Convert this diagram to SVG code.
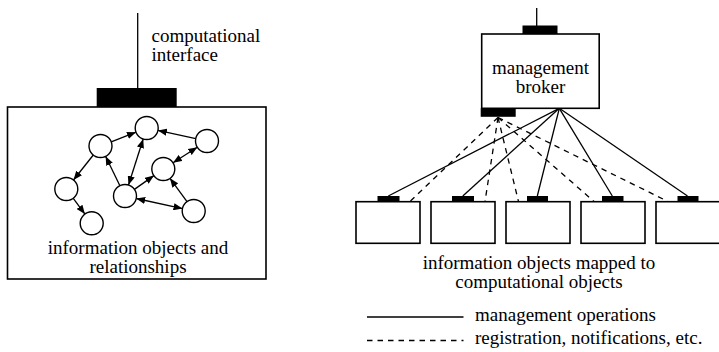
<svg xmlns="http://www.w3.org/2000/svg" width="719" height="352" viewBox="0 0 719 352">
<style>
.t{font-family:'Liberation Serif','DejaVu Serif',serif;font-size:19px;fill:#000}
.box{fill:#fff;stroke:#000;stroke-width:1.6}
.bar{fill:#000}
.circ{fill:#fff;stroke:#000;stroke-width:1.4}
.rel{stroke:#000;stroke-width:1.3;fill:none}
.op{stroke:#000;stroke-width:1.3;fill:none}
.dash{stroke:#000;stroke-width:1.3;fill:none;stroke-dasharray:5.5 5}
</style>
<defs>
<marker id="ah" viewBox="0 0 10 8" refX="10" refY="4" markerWidth="9" markerHeight="7.5" markerUnits="userSpaceOnUse" orient="auto-start-reverse">
<path d="M0,0 L10,4 L0,8 z" fill="#000"/>
</marker>
</defs>

<g id="iface-left">
<line x1="137.7" y1="13" x2="137.7" y2="88" class="op"/>
<rect x="96.7" y="88" width="80" height="19" class="bar"/>
<text class="t" x="151.5" y="42">computational</text>
<text class="t" x="151.5" y="61">interface</text>
</g>
<g id="info-box">
<rect x="7.5" y="107" width="258.5" height="172" class="box"/>
<text class="t" x="138" y="254" text-anchor="middle">information objects and</text>
<text class="t" x="138" y="273" text-anchor="middle">relationships</text>
</g>
<g id="relations">
<line x1="111.2" y1="141.8" x2="136.0" y2="132.2" class="rel" marker-end="url(#ah)"/>
<line x1="93.3" y1="155.0" x2="73.5" y2="180.0" class="rel" marker-end="url(#ah)"/>
<line x1="73.1" y1="198.2" x2="84.9" y2="214.1" class="rel" marker-end="url(#ah)"/>
<line x1="119.9" y1="185.7" x2="105.6" y2="156.3" class="rel" marker-end="url(#ah)"/>
<line x1="128.5" y1="185.0" x2="143.2" y2="139.0" class="rel" marker-start="url(#ah)" marker-end="url(#ah)"/>
<line x1="195.8" y1="138.6" x2="157.9" y2="130.4" class="rel" marker-end="url(#ah)"/>
<line x1="197.3" y1="147.2" x2="173.0" y2="162.8" class="rel" marker-start="url(#ah)" marker-end="url(#ah)"/>
<line x1="134.4" y1="189.4" x2="153.9" y2="175.6" class="rel" marker-end="url(#ah)"/>
<line x1="187.0" y1="201.7" x2="170.0" y2="178.3" class="rel" marker-end="url(#ah)"/>
<line x1="136.2" y1="198.5" x2="182.5" y2="208.6" class="rel" marker-start="url(#ah)" marker-end="url(#ah)"/>
</g>
<g id="objects">
<circle id="o1" cx="100.5" cy="146" r="11.5" class="circ"/>
<circle id="o2" cx="146.7" cy="128" r="11.5" class="circ"/>
<circle id="o3" cx="207" cy="141" r="11.5" class="circ"/>
<circle id="o4" cx="163.3" cy="169" r="11.5" class="circ"/>
<circle id="o5" cx="66.3" cy="189" r="11.5" class="circ"/>
<circle id="o6" cx="125" cy="196" r="11.5" class="circ"/>
<circle id="o7" cx="91.7" cy="223.3" r="11.5" class="circ"/>
<circle id="o8" cx="193.7" cy="211" r="11.5" class="circ"/>
</g>

<g id="connectors">
<line x1="559.3" y1="108.3" x2="388.3" y2="196" class="op"/>
<line x1="559.3" y1="108.3" x2="462.8" y2="196" class="op"/>
<line x1="559.3" y1="108.3" x2="537.3" y2="196" class="op"/>
<line x1="559.3" y1="108.3" x2="612.3" y2="196" class="op"/>
<line x1="559.3" y1="108.3" x2="687.5" y2="196" class="op"/>
<line x1="498" y1="117.5" x2="410" y2="201.5" class="dash"/>
<line x1="498" y1="117.5" x2="485" y2="201.5" class="dash"/>
<line x1="498" y1="117.5" x2="518.5" y2="201.5" class="dash"/>
<line x1="498" y1="117.5" x2="594" y2="201.5" class="dash"/>
<line x1="498" y1="117.5" x2="668" y2="201.5" class="dash"/>
</g>
<g id="broker">
<line x1="536.7" y1="8" x2="536.7" y2="26" class="op"/>
<rect x="522.5" y="25.5" width="35" height="9" class="bar"/>
<rect x="481.7" y="34" width="117.5" height="74.3" class="box"/>
<rect x="480.7" y="108.3" width="35" height="8.5" class="bar"/>
<text class="t" x="540.5" y="73.5" text-anchor="middle">management</text>
<text class="t" x="540.5" y="92.5" text-anchor="middle">broker</text>
</g>
<g id="co1"><rect x="356" y="201.7" width="64" height="41.6" class="box"/><rect x="377.5" y="196" width="22" height="6" class="bar"/></g>
<g id="co2"><rect x="431" y="201.7" width="64" height="41.6" class="box"/><rect x="452" y="196" width="22" height="6" class="bar"/></g>
<g id="co3"><rect x="506" y="201.7" width="64" height="41.6" class="box"/><rect x="527" y="196" width="21" height="6" class="bar"/></g>
<g id="co4"><rect x="581" y="201.7" width="64" height="41.6" class="box"/><rect x="602" y="196" width="21.5" height="6" class="bar"/></g>
<g id="co5"><rect x="656" y="201.7" width="64" height="41.6" class="box"/><rect x="677.5" y="196" width="21" height="6" class="bar"/></g>
<g id="caption-right">
<text class="t" x="539" y="269" text-anchor="middle">information objects mapped to</text>
<text class="t" x="539" y="288" text-anchor="middle">computational objects</text>
</g>
<g id="legend">
<line x1="367" y1="317" x2="463.5" y2="317" class="op"/>
<text class="t" x="475" y="321">management operations</text>
<line x1="367" y1="340.5" x2="463.5" y2="340.5" class="dash"/>
<text class="t" x="475" y="344">registration, notifications, etc.</text>
</g>
</svg>
